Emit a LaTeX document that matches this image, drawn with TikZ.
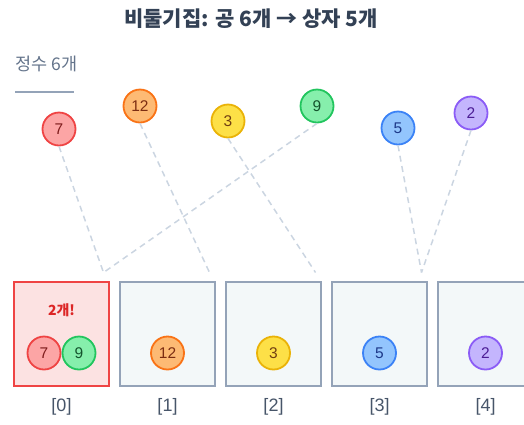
\documentclass[tikz,border=0pt]{standalone}
\usepackage{fontspec}
\setmainfont{Noto Sans CJK KR}
\newfontfamily\latinfont{Liberation Sans}
\usetikzlibrary{positioning, calc}
\definecolor{Slate300}{HTML}{CBD5E1}
\definecolor{Slate400}{HTML}{94A3B8}
\definecolor{Slate500}{HTML}{64748B}
\definecolor{Slate600}{HTML}{475569}
\definecolor{Slate700}{HTML}{334155}
\definecolor{BinFill}{HTML}{F3F8F9}
\definecolor{RedFill}{HTML}{FCA5A5}
\definecolor{RedLine}{HTML}{EF4444}
\definecolor{RedText}{HTML}{7F1D1D}
\definecolor{RedBin}{HTML}{FCE2E2}
\definecolor{RedLabel}{HTML}{DC2626}
\definecolor{OrangeFill}{HTML}{FDBA74}
\definecolor{OrangeLine}{HTML}{F97316}
\definecolor{OrangeText}{HTML}{7C2D12}
\definecolor{YellowFill}{HTML}{FDE047}
\definecolor{YellowLine}{HTML}{EAB308}
\definecolor{YellowText}{HTML}{713F12}
\definecolor{GreenFill}{HTML}{86EFAC}
\definecolor{GreenLine}{HTML}{22C55E}
\definecolor{GreenText}{HTML}{14532D}
\definecolor{BlueFill}{HTML}{93C5FD}
\definecolor{BlueLine}{HTML}{3B82F6}
\definecolor{BlueText}{HTML}{1E3A8A}
\definecolor{PurpleFill}{HTML}{C4B5FD}
\definecolor{PurpleLine}{HTML}{8B5CF6}
\definecolor{PurpleText}{HTML}{4C1D95}

\begin{document}
\begin{tikzpicture}[x=1pt, y=1pt,
    ball/.style={circle, fill=#1Fill, draw=#1Line, text=#1Text, line width=1.8pt,
                 minimum size=33pt, inner sep=0pt, font=\latinfont\fontsize{15.5}{18}\selectfont},
    bin/.style={draw=Slate400, fill=BinFill, line width=2pt, minimum width=95pt,
                minimum height=104pt, inner sep=0pt},
    link/.style={Slate300, line width=1.5pt, dash pattern=on 6pt off 4.5pt}]
  \useasboundingbox (0,0) rectangle (524,-424);
  \clip (0,0) rectangle (524,-424);
  % Title
  \node[font=\fontsize{21}{25}\selectfont\bfseries, text=Slate700] (title) at (251,-19)
    {비둘기집: 공 6개 → 상자 5개};
  \node[font=\fontsize{17.5}{21}\selectfont, text=Slate500, anchor=west] (ints) at (12,-64) {정수 6개};
  \draw[Slate400, line width=2pt] (15,-92) -- (74,-92);
  % Bins
  \foreach \i in {0,1,2,3,4} {
    \node[bin] (b\i) at (61.5+106*\i,-334) {};
    \node[font=\latinfont\fontsize{18}{21}\selectfont, text=Slate600] (lab\i) at (61.5+106*\i,-407) {[\i]};
  }
  \node[bin, draw=RedLine, fill=RedBin, line width=2.6pt] at (b0) {};
  % Drop points above bins
  \foreach \i in {0,1,2,3}
    \coordinate (d\i) at ($(b\i.north east)+(-6.5,8.5)$);
  % Balls to sort
  \foreach \v/\c/\x/\y in {7/Red/59/129, 12/Orange/140/106, 3/Yellow/228/121,
                           9/Green/317/106, 5/Blue/398/128, 2/Purple/471/113}
    \node[ball=\c] (t\v) at (\x,-\y) {\v};
  \draw[link] (t7.south) -- (d0);
  \draw[link] (t9.south) -- (d0);
  \draw[link] (t12.south) -- (d1);
  \draw[link] (t3.south) -- (d2);
  \draw[link] (t5.south) -- (d3);
  \draw[link] (t2.south) -- (d3);
  % Balls in bins
  \node[font=\fontsize{14}{17}\selectfont\bfseries, text=RedLabel] (two) at (61.5,-310) {2개!};
  \node[ball=Red] (in7) at (44,-353) {7};
  \node[ball=Green] (in9) at (79,-353) {9};
  \node[ball=Orange] (in12) at (b1 |- in7) {12};
  \node[ball=Yellow] (in3) at (b2 |- in7) {3};
  \node[ball=Blue] (in5) at (b3 |- in7) {5};
  \node[ball=Purple] (in2) at (b4 |- in7) {2};
\end{tikzpicture}
\end{document}
